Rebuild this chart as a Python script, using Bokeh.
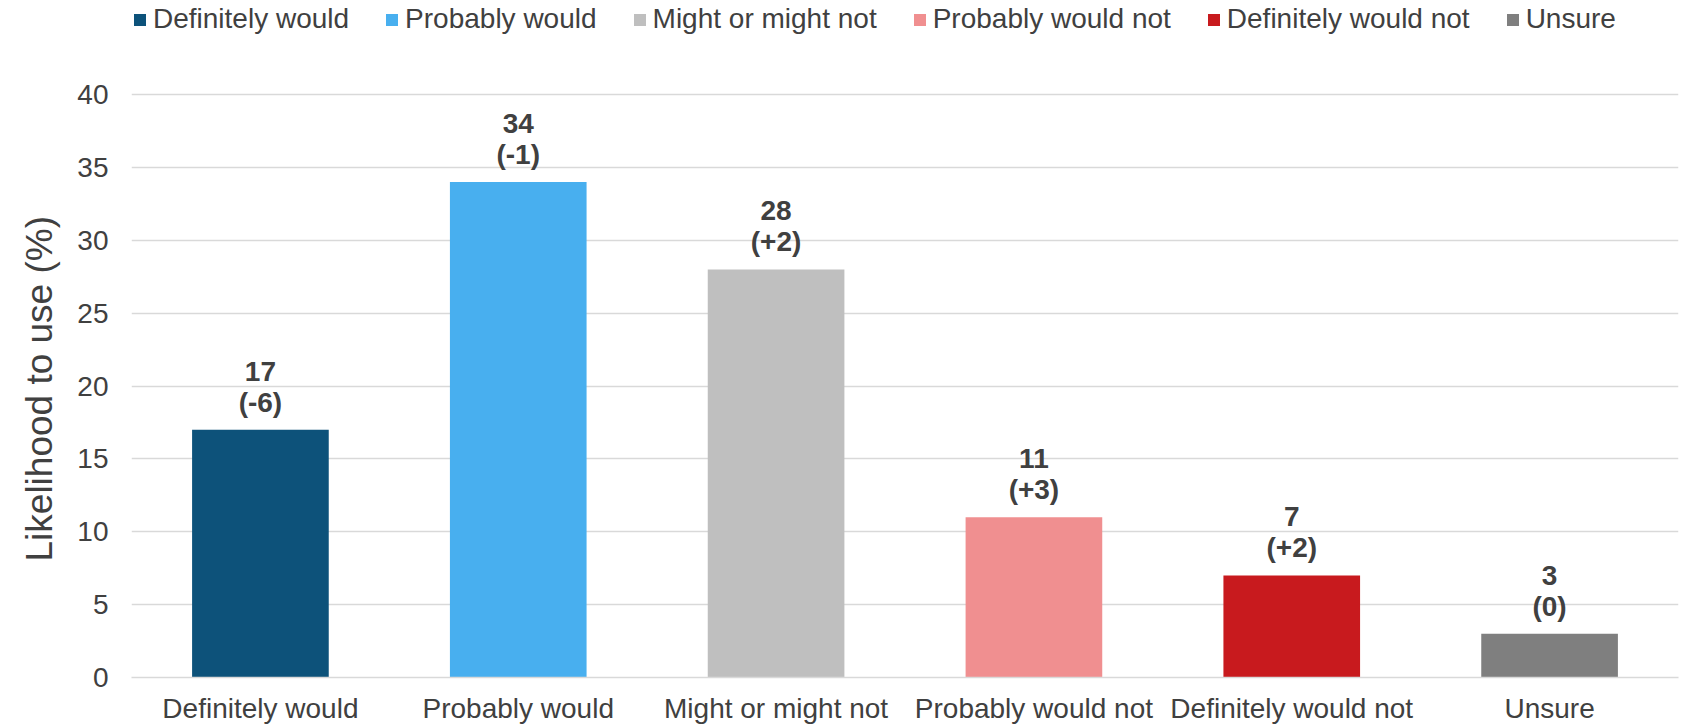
from bokeh.plotting import figure
from bokeh.models import (ColumnDataSource, FactorRange, Range1d, Legend, LegendItem,
                          LabelSet, FixedTicker, Title)
from bokeh.core.properties import value
from bokeh.embed import file_html
from bokeh.resources import INLINE

categories = ["Definitely would", "Probably would", "Might or might not",
              "Probably would not", "Definitely would not", "Unsure"]
values = [17, 34, 28, 11, 7, 3]
changes = ["(-6)", "(-1)", "(+2)", "(+3)", "(+2)", "(0)"]
colors = ["#0D527A", "#48AFEF", "#BFBFBF", "#F08F90", "#C81A1E", "#7F7F7F"]
y_ticks = [0, 5, 10, 15, 20, 25, 30, 35, 40]

FONT = "Liberation Sans"
TXT = "#404040"
GRID = "#D9D9D9"

# the frame reaches the top of the canvas so the legend can sit inside it;
# the scale keeps 40 at the level of the original top gridline
Y_TOP = 46.46

source = ColumnDataSource(dict(
    cat=categories, val=values, chg=changes, color=colors,
    val_txt=[str(v) for v in values],
))

p = figure(width=1683, height=726, output_backend="svg", toolbar_location=None,
           x_range=FactorRange(*categories, range_padding=0),
           y_range=Range1d(0, Y_TOP),
           min_border_left=131, min_border_right=5, min_border_top=0,
           min_border_bottom=0)
p.outline_line_color = None
p.background_fill_color = "white"
p.border_fill_color = "white"

r = p.vbar(x="cat", top="val", width=0.53, fill_color="color", line_color=None,
           source=source)

# axes
p.yaxis.ticker = FixedTicker(ticks=y_ticks)
p.yaxis.axis_line_color = None
p.yaxis.major_tick_line_color = None
p.yaxis.minor_tick_line_color = None
p.yaxis.major_tick_out = 0
p.yaxis.major_tick_in = 0
p.yaxis.major_label_standoff = 23
p.yaxis.major_label_text_font = FONT
p.yaxis.major_label_text_font_size = "28px"
p.yaxis.major_label_text_color = TXT

ytitle = Title(text="Likelihood to use (%)", align="left", offset=116,
               text_font=FONT, text_font_size="37px", text_font_style="normal",
               text_color=TXT)
try:
    ytitle.standoff = 30
except Exception:
    pass
p.add_layout(ytitle, "left")

p.xaxis.axis_line_color = GRID
p.xaxis.axis_line_width = 1.3
p.xaxis.major_tick_line_color = None
p.xaxis.minor_tick_line_color = None
p.xaxis.major_tick_out = 0
p.xaxis.major_tick_in = 0
p.xaxis.major_label_standoff = 15
p.xaxis.major_label_text_font = FONT
p.xaxis.major_label_text_font_size = "28px"
p.xaxis.major_label_text_color = TXT

p.xgrid.grid_line_color = None
p.ygrid.grid_line_color = GRID
p.ygrid.grid_line_width = 1.3

# data labels
lab_val = LabelSet(x="cat", y="val", text="val_txt", source=source, y_offset=49,
                   text_align="center", text_baseline="alphabetic",
                   text_font=value(FONT), text_font_size=value("28px"),
                   text_font_style=value("bold"), text_color=value(TXT))
lab_chg = LabelSet(x="cat", y="val", text="chg", source=source, y_offset=18,
                   text_align="center", text_baseline="alphabetic",
                   text_font=value(FONT), text_font_size=value("28px"),
                   text_font_style=value("bold"), text_color=value(TXT))
p.add_layout(lab_val)
p.add_layout(lab_chg)

# legend
items = [LegendItem(label=c, renderers=[r], index=i) for i, c in enumerate(categories)]
legend = Legend(items=items, orientation="horizontal", location=(1, 642),
                glyph_width=15, glyph_height=15, label_standoff=6, spacing=35,
                padding=0, margin=0, border_line_color=None,
                background_fill_alpha=0,
                label_text_font=FONT, label_text_font_size="28px",
                label_text_color=TXT)
p.add_layout(legend)

open("out.html", "w").write(file_html(p, INLINE))
